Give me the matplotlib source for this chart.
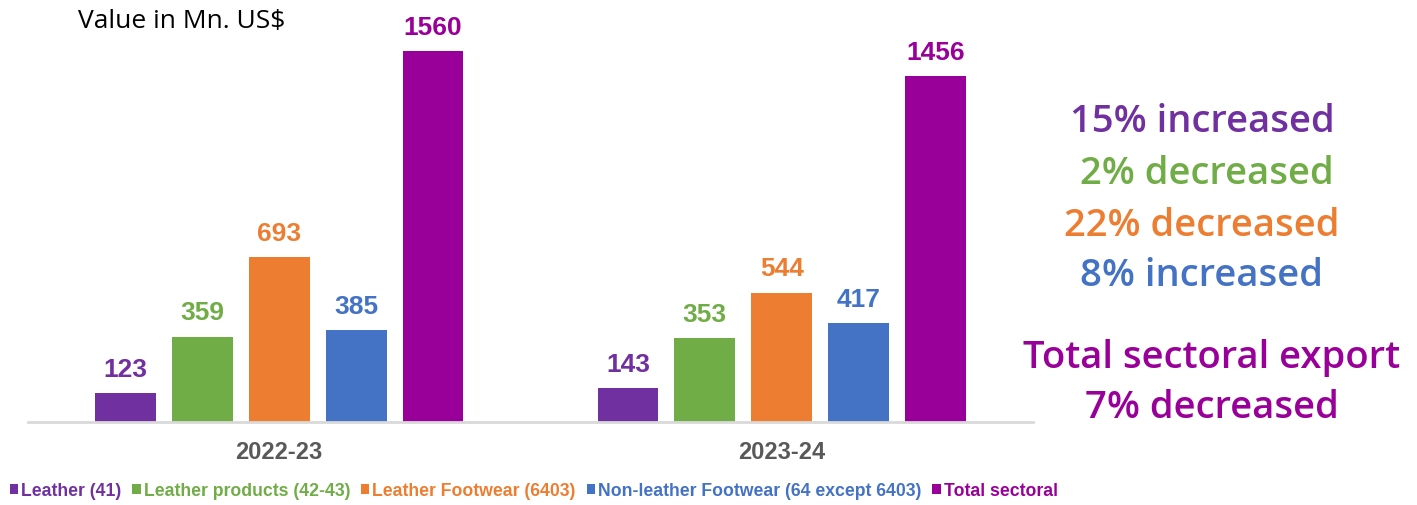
import numpy as np
import matplotlib.pyplot as plt

# data
years = ["2022-23", "2023-24"]
series = ["Leather (41)", "Leather products (42-43)", "Leather Footwear (6403)",
          "Non-leather Footwear (64 except 6403)", "Total sectoral"]
leather = [123, 143]
leather_products = [359, 353]
leather_footwear = [693, 544]
non_leather_footwear = [385, 417]
total_sectoral = [1560, 1456]

change_notes = ["15% increased", "2% decreased", "22% decreased", "8% increased"]
total_note = ["Total sectoral export", "7% decreased"]

colors = ["#7030A0", "#70AD47", "#ED7D31", "#4472C4", "#990099"]
values = [leather, leather_products, leather_footwear, non_leather_footwear, total_sectoral]

fig = plt.figure(figsize=(14.17, 5.05), dpi=100)
ax = fig.add_axes([28 / 1417, 83 / 505, 1005 / 1417, 412 / 505])

x = np.arange(len(years))
width = 0.121
step = 0.153
for i, (name, vals, c) in enumerate(zip(series, values, colors)):
    b = ax.bar(x + (i - 2) * step, vals, width, color=c, label=name)
    for rect, v in zip(b, vals):
        ax.annotate(f"{v}", (rect.get_x() + rect.get_width() / 2, v),
                    xytext=(0, 8), textcoords="offset points",
                    ha="center", va="bottom", fontsize=19, fontweight="bold",
                    color=c, family="Liberation Sans")

ax.set_xlim(-0.5, 1.5)
ax.set_ylim(0, 1732)
ax.set_yticks([])
ax.set_xticks(x)
ax.set_xticklabels(years, fontsize=17, fontweight="bold", color="#595959",
                   family="Liberation Sans")
ax.tick_params(axis="x", length=0, pad=14)
for s in ["top", "right", "left"]:
    ax.spines[s].set_visible(False)
ax.spines["bottom"].set_color("#D9D9D9")
ax.spines["bottom"].set_linewidth(2)

leg = ax.legend(loc="center left", bbox_to_anchor=(-18 / 1005, -69 / 412), ncol=5,
                frameon=False, labelcolor=colors, handlelength=0.46, handleheight=0.46,
                handletextpad=0.18, columnspacing=0.62, borderaxespad=0, borderpad=0,
                prop={"family": "Liberation Sans", "weight": "bold", "size": 12.7})

fig.text(78 / 1417, 1 - 22 / 505, "Value in Mn. US$", fontsize=19, family="Open Sans",
         ha="left", va="center", color="black")

note_y = [122, 174, 226, 276]
note_x = [1202, 1207, 1202, 1202]
for t, c, yy, xx in zip(change_notes, colors[:4], note_y, note_x):
    fig.text(xx / 1417, 1 - yy / 505, t, fontsize=27.5, family="Open Sans", fontweight="semibold",
             color=c, ha="center", va="center")
for t, yy in zip(total_note, [358, 408]):
    fig.text(1212 / 1417, 1 - yy / 505, t, fontsize=27.5, family="Open Sans", fontweight="semibold",
             color=colors[4], ha="center", va="center")

fig.savefig("out.png", dpi=100)
